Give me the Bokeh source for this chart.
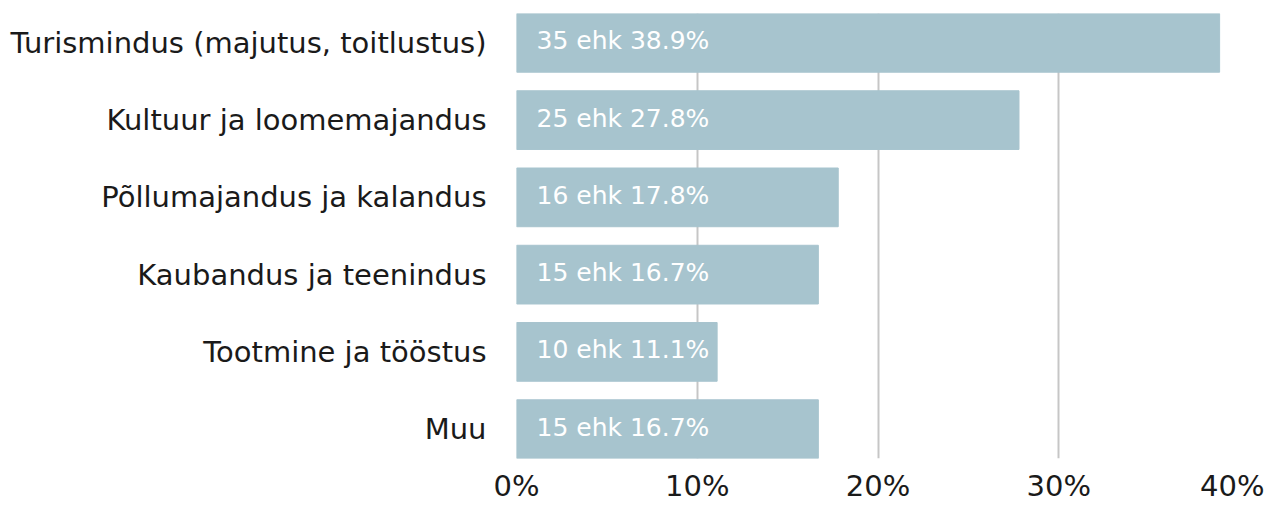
from bokeh.plotting import figure
from bokeh.models import Range1d, FixedTicker, ColumnDataSource
from bokeh.core.properties import value
from bokeh.embed import file_html
from bokeh.resources import INLINE

categories = ["Turismindus (majutus, toitlustus)", "Kultuur ja loomemajandus",
              "Põllumajandus ja kalandus", "Kaubandus ja teenindus",
              "Tootmine ja tööstus", "Muu"]
counts = [35, 25, 16, 15, 10, 15]
percents = [38.9, 27.8, 17.8, 16.7, 11.1, 16.7]
x_ticks = [0, 10, 20, 30, 40]

FONT = "DejaVu Sans"
pos = list(range(len(categories)))
labels = [f"{c} ehk {p}%" for c, p in zip(counts, percents)]
src = ColumnDataSource(dict(y=pos, x=percents, label=labels, x0=[0]*len(pos)))

p = figure(width=1264, height=505, output_backend="svg", toolbar_location=None,
           x_range=Range1d(0, 40), y_range=Range1d(5.38, -0.38),
           min_border_left=516, min_border_right=25, min_border_top=13, min_border_bottom=45)
p.outline_line_color = None
p.hbar(y="y", right="x", left=0, height=0.76, source=src, color="#a7c4ce")
p.text(x="x0", y="y", text="label", source=src, x_offset=20, y_offset=-2,
       text_baseline="middle", text_color="white",
       text_font=value(FONT), text_font_size="25px")

p.xaxis.ticker = FixedTicker(ticks=x_ticks)
p.xaxis.major_label_overrides = {t: f"{t}%" for t in x_ticks}
p.yaxis.ticker = FixedTicker(ticks=pos)
p.yaxis.major_label_overrides = {i: c for i, c in enumerate(categories)}
for ax in (p.xaxis[0], p.yaxis[0]):
    ax.axis_line_color = None
    ax.major_tick_line_color = None
    ax.minor_tick_line_color = None
    ax.major_label_text_font = FONT
    ax.major_label_text_font_size = "29px"
    ax.major_label_text_color = "#1a1a1a"
p.xaxis.major_label_standoff = 4
p.yaxis.major_label_standoff = 24
p.ygrid.grid_line_color = None
p.xgrid.grid_line_color = "#c6c6c6"
p.xgrid.grid_line_width = 2
p.xgrid.level = "underlay"
p.background_fill_color = "white"

open("out.html", "w").write(file_html(p, INLINE))
